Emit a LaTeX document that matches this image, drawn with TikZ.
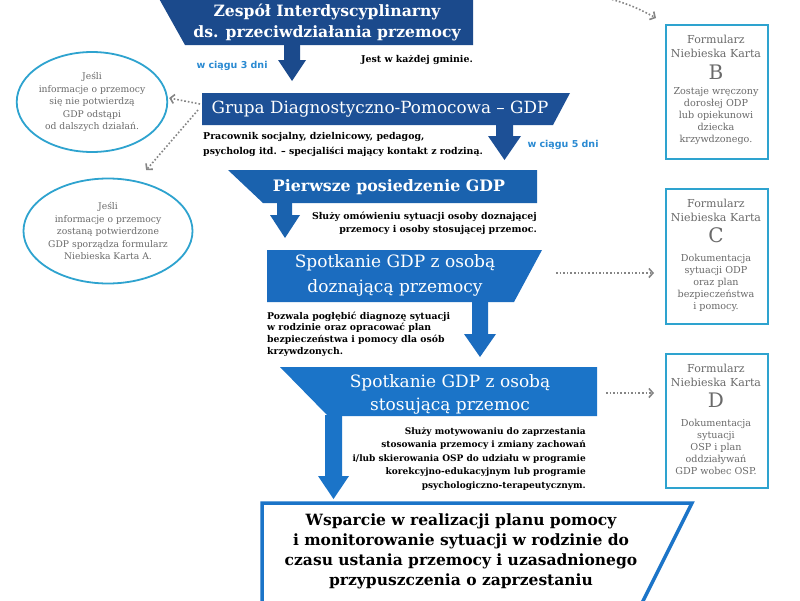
\documentclass[tikz,border=0pt]{standalone}
\usepackage{fontspec}
\setmainfont{DejaVu Serif}
\setsansfont{DejaVu Sans}
\usetikzlibrary{arrows.meta,shapes.geometric}
\definecolor{navy}{HTML}{1B4A8C}
\definecolor{navyb}{HTML}{1D5096}
\definecolor{midblue}{HTML}{1A62AE}
\definecolor{midblueb}{HTML}{1B6CBF}
\definecolor{midbluec}{HTML}{1B74C8}
\definecolor{cyanb}{HTML}{2EA3CF}
\definecolor{txtgray}{HTML}{6A6A6A}
\definecolor{dotgray}{HTML}{858585}
\definecolor{lblue}{HTML}{2A8AD2}
\begin{document}
\begin{tikzpicture}[x=1pt,y=-1pt,
 head/.style={text=white,align=center,inner sep=0pt},
 desc/.style={font=\bfseries\fontsize{9.4}{13}\selectfont,inner sep=0pt},
 days/.style={font=\sffamily\bfseries\fontsize{9.5}{10}\selectfont,text=lblue,inner sep=0pt},
 oval/.style={ellipse,draw=cyanb,line width=1.8pt,fill=white,text=txtgray,align=center,font=\fontsize{9.2}{12.5}\selectfont,inner sep=0pt},
 card/.style={draw=cyanb,line width=1.8pt,fill=white,minimum width=102pt,minimum height=134pt,inner sep=0pt,anchor=north west},
 cardtitle/.style={text=txtgray,align=center,font=\fontsize{11}{14}\selectfont,inner sep=0pt},
 cardletter/.style={text=txtgray,font=\fontsize{20}{21}\selectfont,inner sep=0pt},
 cardtext/.style={text=txtgray,align=center,font=\fontsize{9.6}{12.2}\selectfont,inner sep=0pt},
 dots/.style={draw=dotgray,line width=1.6pt,dotted,-{Straight Barb[length=4pt,width=9pt,line width=1.6pt]}}
]
\useasboundingbox (0,0) rectangle (800,600);
\fill[white] (0,0) rectangle (800,600);
\clip (0,0) rectangle (800,600);

% box 1
\fill[navy] (157,-5) -- (473,-5) -- (473,45) -- (185,45) -- cycle;
\fill[navy] (284,44) -- (300,44) -- (300,60) -- (306,60) -- (292,81) -- (278,60) -- (284,60) -- cycle;
\node[head,font=\bfseries\fontsize{15.6}{21}\selectfont] (h1) at (327,22) {Zespół Interdyscyplinarny\\ds. przeciwdziałania przemocy};
\node[days] (d3) at (232,66) {w ciągu 3 dni};
\node[desc,anchor=east] (t1) at (473,60) {Jest w każdej gminie.};

% box 2
\fill[navyb] (202,93) -- (570,93) -- (553,125) -- (202,125) -- cycle;
\fill[navyb] (496,124) -- (513,124) -- (513,136) -- (521,136) -- (504.5,160) -- (488,136) -- (496,136) -- cycle;
\node[head,font=\fontsize{16.8}{18}\selectfont] (h2) at (380,109) {Grupa Diagnostyczno-Pomocowa – GDP};
\node[desc,anchor=west,align=left,font=\bfseries\fontsize{9.4}{15}\selectfont] (t2) at (203,144) {Pracownik socjalny, dzielnicowy, pedagog,\\psycholog itd. – specjaliści mający kontakt z rodziną.};
\node[days] (d5) at (563,145) {w ciągu 5 dni};
\coordinate (g2a) at (200,104);
\coordinate (g2b) at (198,110);

% box 3
\fill[midblue] (228,170) -- (537,170) -- (537,203) -- (263,203) -- cycle;
\fill[midblue] (277,202) -- (292,202) -- (292,215) -- (300,215) -- (285,238) -- (270,215) -- (277,215) -- cycle;
\node[head,font=\bfseries\fontsize{15.8}{18}\selectfont] (h3) at (389,187) {Pierwsze posiedzenie GDP};
\node[desc,anchor=east,align=right,font=\bfseries\fontsize{9.4}{13.3}\selectfont] (t3) at (537,223) {Służy omówieniu sytuacji osoby doznającej\\przemocy i osoby stosującej przemoc.};

% box 4
\fill[midblueb] (267,250) -- (542,250) -- (514,302) -- (267,302) -- cycle;
\fill[midblueb] (472,301) -- (488,301) -- (488,334) -- (496,334) -- (480,357) -- (464,334) -- (472,334) -- cycle;
\node[head,font=\fontsize{17}{25}\selectfont] (h4) at (395,275) {Spotkanie GDP z osobą\\doznającą przemocy};
\node[desc,anchor=west,align=left,font=\bfseries\fontsize{9.3}{11.7}\selectfont] (t4) at (267,334) {Pozwala pogłębić diagnozę sytuacji\\w rodzinie oraz opracować plan\\bezpieczeństwa i pomocy dla osób\\krzywdzonych.};
\coordinate (b4r) at (548,273);

% box 5
\fill[midbluec] (280,367) -- (597,367) -- (597,416) -- (328,416) -- cycle;
\fill[midbluec] (325,415) -- (342,415) -- (342,476) -- (349,476) -- (333.5,499) -- (318,476) -- (325,476) -- cycle;
\node[head,font=\fontsize{17}{23}\selectfont] (h5) at (450,394) {Spotkanie GDP z osobą\\stosującą przemoc};
\node[desc,anchor=east,align=right,font=\bfseries\fontsize{9}{13.5}\selectfont] (t5) at (586,459) {Służy motywowaniu do zaprzestania\\stosowania przemocy i zmiany zachowań\\i/lub skierowania OSP do udziału w programie\\korekcyjno-edukacyjnym lub programie\\psychologiczno-terapeutycznym.};
\coordinate (b5r) at (606,393);

% box 6
\draw[midbluec,line width=3.5pt] (262,615) -- (262,503) -- (692,503) -- (636,615);
\node[align=center,inner sep=0pt,font=\bfseries\fontsize{15.5}{20}\selectfont] (h6) at (461,551) {Wsparcie w realizacji planu pomocy\\i monitorowanie sytuacji w rodzinie do\\czasu ustania przemocy i uzasadnionego\\przypuszczenia o zaprzestaniu};

% ellipses
\node[oval,minimum width=150pt,minimum height=100pt] (e1) at (92,102) {Jeśli\\informacje o przemocy\\się nie potwierdzą\\GDP odstąpi\\od dalszych działań.};
\node[oval,minimum width=137pt,minimum height=105pt] (e2) at (108,231) {Jeśli\\informacje o przemocy\\zostaną potwierdzone\\GDP sporządza formularz\\Niebieska Karta A.};

% cards
\node[card] (B) at (665,24) {};
\node[cardtitle] (Bt) at (716,46) {Formularz\\Niebieska Karta};
\node[cardletter] (Bl) at (716,72) {B};
\node[cardtext] (Bx) at (716,116) {Zostaje wręczony\\dorosłej ODP\\lub opiekunowi\\dziecka\\krzywdzonego.};

\node[card,minimum height=135pt] (C) at (665,188) {};
\node[cardtitle] (Ct) at (716,210) {Formularz\\Niebieska Karta};
\node[cardletter] (Cl) at (716,235) {C};
\node[cardtext] (Cx) at (716,283) {Dokumentacja\\sytuacji ODP\\oraz plan\\bezpieczeństwa\\i pomocy.};

\node[card] (D) at (665,353) {};
\node[cardtitle] (Dt) at (716,375) {Formularz\\Niebieska Karta};
\node[cardletter] (Dl) at (716,400) {D};
\node[cardtext] (Dx) at (716,447) {Dokumentacja\\sytuacji\\OSP i plan\\oddziaływań\\GDP wobec OSP.};

% dotted connectors
\coordinate (tr) at (598,-4);
\draw[dots] (tr) to[bend left=8] ([xshift=-9pt,yshift=6pt]B.north west);
\draw[dots] (g2a) -- ([xshift=1pt,yshift=4pt]e1.east);
\draw[dots,shorten >=14pt] (g2b) -- (e2.60);
\draw[dots,shorten <=8pt,shorten >=11pt] (b4r) -- (b4r -| C.west);
\draw[dots,shorten >=11pt] (b5r) -- (b5r -| D.west);
\end{tikzpicture}
\end{document}
